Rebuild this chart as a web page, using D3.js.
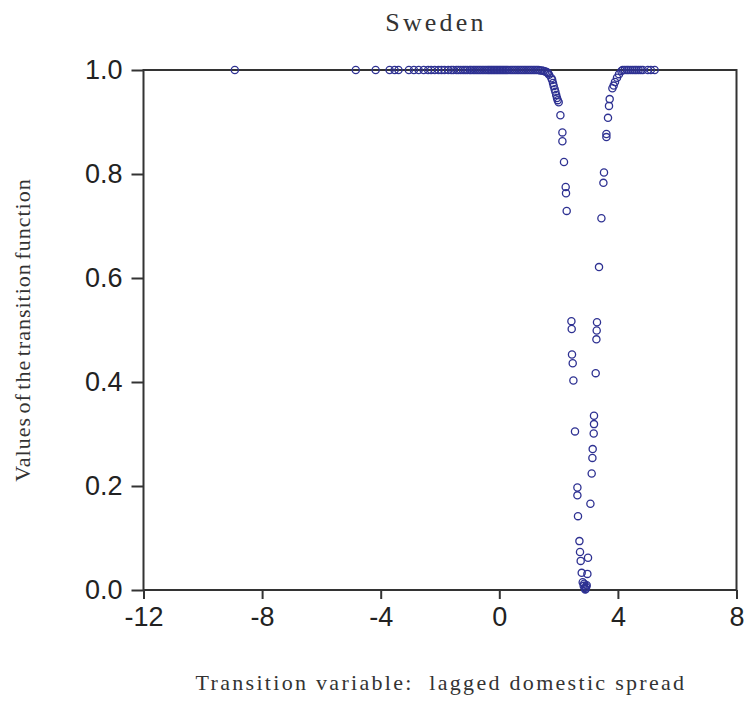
<!DOCTYPE html>
<html>
<head>
<meta charset="utf-8">
<script src="https://cdn.jsdelivr.net/npm/d3@7"></script>
<style>
  html, body { margin: 0; padding: 0; background: #fff; }
  svg { display: block; }
</style>
</head>
<body>
<svg id="chart" width="747" height="711"></svg>
<script>
// ---- Data ----
const title = "Sweden";
const xLabel = "Transition variable:  lagged domestic spread";
const yLabel = "Values of the transition function";
const xTicks = [-12, -8, -4, 0, 4, 8];
const yTicks = [0.0, 0.2, 0.4, 0.6, 0.8, 1.0];

// transition variable values
const xValues = [
  -8.92, -4.84, -4.17, -3.70, -3.53, -3.40, -3.05, -2.88, -2.72, -2.55, -2.40, -2.30,
  -2.18, -2.05, -1.95, -1.85, -1.72, -1.62, -1.55, -1.45, -1.38, -1.30, -1.22, -1.15,
  -1.08, -1.00, -0.95, -0.88, -0.82, -0.76, -0.70, -0.64, -0.58, -0.52, -0.46, -0.40,
  -0.35, -0.30, -0.25, -0.20, -0.15, -0.10, -0.05, 0.00, 0.05, 0.10, 0.15, 0.20,
  0.25, 0.30, 0.36, 0.42, 0.48, 0.54, 0.60, 0.66, 0.72, 0.78, 0.84, 0.90,
  0.96, 1.02, 1.08, 1.14, 1.20, 1.26, 1.32, 1.38, 1.44, 1.50, 1.55, 1.60,
  1.64, 1.68,
  1.757, 1.784, 1.811, 1.835, 1.868, 1.892, 1.919, 1.946, 1.970, 2.003,
  2.061, 2.128, 2.128, 2.182, 2.239, 2.250, 2.273, 2.432, 2.442, 2.452,
  2.476, 2.499, 2.553, 2.634, 2.634, 2.654, 2.702, 2.722, 2.745, 2.779,
  2.813, 2.846, 2.863, 2.880, 2.897, 2.914, 2.930, 2.948,
  2.971, 2.992, 3.073, 3.116, 3.140, 3.150, 3.184, 3.194, 3.194, 3.251,
  3.275, 3.285, 3.295, 3.363, 3.444, 3.511, 3.531, 3.612, 3.612, 3.666,
  3.700, 3.723, 3.814, 3.858, 3.902, 3.970, 4.037, 4.118,
  4.16, 4.23, 4.30, 4.36, 4.43, 4.50, 4.57, 4.63, 4.70, 4.77, 4.84, 5.01, 5.11, 5.24
];
// transition function values
const gValues = [
  1.000, 1.000, 1.000, 1.000, 1.000, 1.000, 1.000, 1.000, 1.000, 1.000, 1.000, 1.000,
  1.000, 1.000, 1.000, 1.000, 1.000, 1.000, 1.000, 1.000, 1.000, 1.000, 1.000, 1.000,
  1.000, 1.000, 1.000, 1.000, 1.000, 1.000, 1.000, 1.000, 1.000, 1.000, 1.000, 1.000,
  1.000, 1.000, 1.000, 1.000, 1.000, 1.000, 1.000, 1.000, 1.000, 1.000, 1.000, 1.000,
  1.000, 1.000, 1.000, 1.000, 1.000, 1.000, 1.000, 1.000, 1.000, 1.000, 1.000, 1.000,
  1.000, 1.000, 1.000, 1.000, 1.000, 1.000, 1.000, 0.999, 0.999, 0.998, 0.997, 0.996,
  0.994, 0.991,
  0.984, 0.981, 0.975, 0.969, 0.963, 0.958, 0.952, 0.946, 0.942, 0.938,
  0.913, 0.880, 0.863, 0.823, 0.775, 0.763, 0.729, 0.517, 0.502, 0.453,
  0.436, 0.403, 0.305, 0.197, 0.182, 0.142, 0.094, 0.073, 0.056, 0.033,
  0.015, 0.008, 0.012, 0.004, 0.001, 0.002, 0.006, 0.009,
  0.031, 0.062, 0.166, 0.224, 0.254, 0.271, 0.301, 0.319, 0.335, 0.417,
  0.482, 0.499, 0.515, 0.621, 0.715, 0.783, 0.803, 0.871, 0.877, 0.908,
  0.931, 0.944, 0.965, 0.970, 0.977, 0.985, 0.992, 0.998,
  1.000, 1.000, 1.000, 1.000, 1.000, 1.000, 1.000, 1.000, 1.000, 1.000, 1.000, 1.000, 1.000, 1.000
];

// ---- Layout ----
const svg = d3.select("#chart");
const plotL = 143.5, plotR = 736.5, plotT = 70, plotB = 590;
const axisColor = "#333333";
const pointColor = "#2e3192";
const tickFont = "'Liberation Sans', Arial, Helvetica, sans-serif";
const serifFont = "'Liberation Serif', 'Times New Roman', serif";

const x = d3.scaleLinear().domain([-12, 8]).range([plotL, plotR]);
const y = d3.scaleLinear().domain([0, 1]).range([plotB, plotT]);

// frame
svg.append("rect")
  .attr("x", plotL).attr("y", plotT)
  .attr("width", plotR - plotL).attr("height", plotB - plotT)
  .attr("fill", "none").attr("stroke", axisColor).attr("stroke-width", 2);

// x axis
const xAxis = svg.append("g")
  .attr("transform", `translate(0,${plotB})`)
  .call(d3.axisBottom(x).tickValues(xTicks).tickSize(9).tickPadding(8).tickFormat(d => String(d)));
xAxis.select(".domain").remove();
xAxis.selectAll("line").attr("stroke", axisColor).attr("stroke-width", 2);
xAxis.selectAll("text")
  .attr("fill", "#222")
  .style("font-family", tickFont)
  .style("font-size", "27px");

// y axis
const yAxis = svg.append("g")
  .attr("transform", `translate(${plotL},0)`)
  .call(d3.axisLeft(y).tickValues(yTicks).tickSize(12).tickPadding(9).tickFormat(d => d.toFixed(1)));
yAxis.select(".domain").remove();
yAxis.selectAll("line").attr("stroke", axisColor).attr("stroke-width", 2);
yAxis.selectAll("text")
  .attr("fill", "#222")
  .style("font-family", tickFont)
  .style("font-size", "27px");

// points
const pts = xValues.map((v, i) => ({ s: v, g: gValues[i] }));
svg.append("g")
  .selectAll("circle")
  .data(pts)
  .enter().append("circle")
  .attr("cx", d => x(d.s))
  .attr("cy", d => y(d.g))
  .attr("r", 3.6)
  .attr("fill", "none")
  .attr("stroke", pointColor)
  .attr("stroke-width", 1.3);

// title
svg.append("text")
  .attr("x", 436).attr("y", 31)
  .attr("text-anchor", "middle")
  .attr("fill", "#333")
  .style("font-family", serifFont)
  .style("font-size", "26px")
  .style("letter-spacing", "3.2px")
  .text(title);

// x label
svg.append("text")
  .attr("x", 441).attr("y", 690)
  .attr("text-anchor", "middle")
  .attr("fill", "#333")
  .style("font-family", serifFont)
  .style("font-size", "22px")
  .style("letter-spacing", "2.3px")
  .style("white-space", "pre")
  .text(xLabel);

// y label
svg.append("text")
  .attr("transform", `translate(30,330) rotate(-90)`)
  .attr("text-anchor", "middle")
  .attr("fill", "#333")
  .style("font-family", serifFont)
  .style("font-size", "22px")
  .style("letter-spacing", "1px")
  .style("word-spacing", "-3px")
  .text(yLabel);
</script>
</body>
</html>
